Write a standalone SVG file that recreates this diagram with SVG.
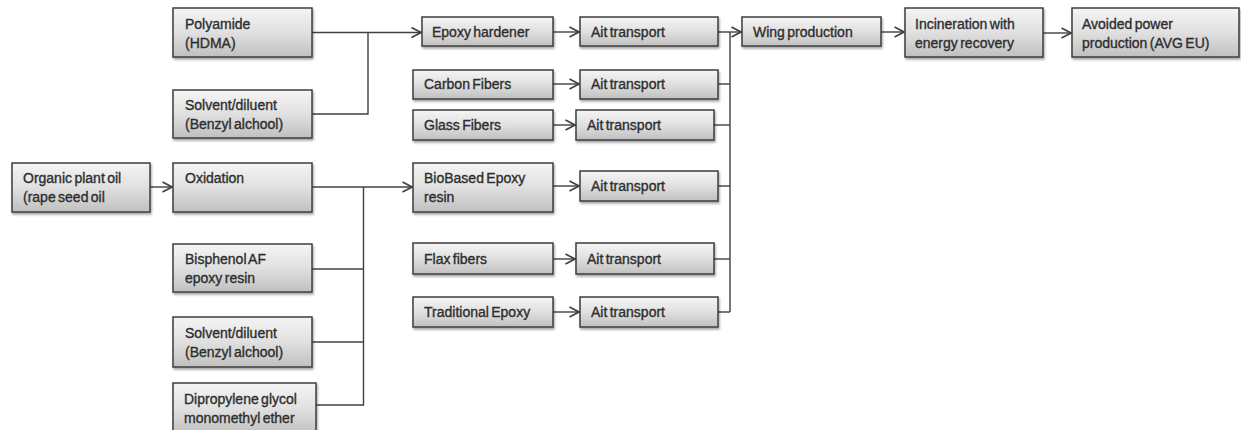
<svg xmlns="http://www.w3.org/2000/svg" width="1241" height="430" viewBox="0 0 1241 430">
  <style>
    .box { fill: url(#boxFill); stroke: #3d3d3d; stroke-width: 1.5; filter: url(#shadow); }
    .lbl { font-family: "Liberation Sans", Arial, sans-serif; font-size: 14px; fill: #2e2e2e; stroke: #2e2e2e; stroke-width: 0.35; word-spacing: -1.5px; }
    .wire { fill: none; stroke: #404040; stroke-width: 1.4; }
    .arrow { marker-end: url(#chevron); }
  </style>
  <defs>
    <linearGradient id="boxFill" x1="0" y1="0" x2="0" y2="1">
      <stop offset="0" stop-color="#f5f5f5"/>
      <stop offset="0.5" stop-color="#e0e0e0"/>
      <stop offset="1" stop-color="#c0c0c0"/>
    </linearGradient>
    <filter id="shadow" x="-10%" y="-20%" width="125%" height="160%">
      <feDropShadow dx="1" dy="2" stdDeviation="1.3" flood-color="#000" flood-opacity="0.35"/>
    </filter>
    <marker id="chevron" viewBox="0 0 11 12" refX="10.5" refY="6" markerWidth="11" markerHeight="12" markerUnits="userSpaceOnUse" orient="auto">
      <path d="M1,1 L10.5,6 L1,11" fill="none" stroke="#404040" stroke-width="1.6"/>
    </marker>
  </defs>

  <!-- connectors -->
  <g id="connectors">
    <!-- hardener inputs -->
    <path class="wire arrow" d="M312,32.5 H421"/>
    <path class="wire" d="M312,114 H368 V32.5"/>
    <!-- plant oil chain -->
    <path class="wire arrow" d="M150,187 H172"/>
    <path class="wire arrow" d="M312,187 H412"/>
    <path class="wire" d="M312,269 H363"/>
    <path class="wire" d="M312,342 H363"/>
    <path class="wire" d="M316,405 H363.5 V187"/>
    <!-- materials to transport -->
    <path class="wire arrow" d="M553,32 H579"/>
    <path class="wire arrow" d="M553,84 H579"/>
    <path class="wire arrow" d="M553,125 H575"/>
    <path class="wire arrow" d="M553,186 H579"/>
    <path class="wire arrow" d="M553,259 H575"/>
    <path class="wire arrow" d="M553,312 H579"/>
    <!-- transport collector to wing production -->
    <path class="wire arrow" d="M718,32 H741"/>
    <path class="wire" d="M718,84 H730"/>
    <path class="wire" d="M714,125 H730"/>
    <path class="wire" d="M718,186 H730"/>
    <path class="wire" d="M714,259 H730"/>
    <path class="wire" d="M718,312 H730"/>
    <path class="wire" d="M730,32 V312"/>
    <!-- end of life -->
    <path class="wire arrow" d="M881,32 H904"/>
    <path class="wire arrow" d="M1043,33 H1071"/>
  </g>

  <!-- input column -->
  <g id="polyamide">
    <rect class="box" x="173" y="8" width="139" height="49"/>
    <text class="lbl" x="185" y="29">Polyamide</text>
    <text class="lbl" x="185" y="48">(HDMA)</text>
  </g>
  <g id="solvent-hardener">
    <rect class="box" x="173" y="90" width="139" height="48"/>
    <text class="lbl" x="185" y="110">Solvent/diluent</text>
    <text class="lbl" x="185" y="129">(Benzyl alchool)</text>
  </g>
  <g id="plant-oil">
    <rect class="box" x="12" y="163" width="138" height="49"/>
    <text class="lbl" x="23" y="183">Organic plant oil</text>
    <text class="lbl" x="23" y="202">(rape seed oil</text>
  </g>
  <g id="oxidation">
    <rect class="box" x="173" y="163" width="139" height="49"/>
    <text class="lbl" x="185" y="183">Oxidation</text>
  </g>
  <g id="bisphenol">
    <rect class="box" x="173" y="244" width="139" height="48"/>
    <text class="lbl" x="185" y="264">Bisphenol AF</text>
    <text class="lbl" x="185" y="283">epoxy resin</text>
  </g>
  <g id="solvent-resin">
    <rect class="box" x="173" y="317" width="139" height="50"/>
    <text class="lbl" x="185" y="338">Solvent/diluent</text>
    <text class="lbl" x="185" y="357">(Benzyl alchool)</text>
  </g>
  <g id="dipropylene">
    <rect class="box" x="173" y="383" width="143" height="52"/>
    <text class="lbl" x="184" y="404">Dipropylene glycol</text>
    <text class="lbl" x="184" y="423">monomethyl ether</text>
  </g>

  <!-- materials column -->
  <g id="epoxy-hardener">
    <rect class="box" x="422" y="17" width="131" height="29"/>
    <text class="lbl" x="432" y="37">Epoxy hardener</text>
  </g>
  <g id="carbon-fibers">
    <rect class="box" x="413" y="70" width="140" height="29"/>
    <text class="lbl" x="424" y="89">Carbon Fibers</text>
  </g>
  <g id="glass-fibers">
    <rect class="box" x="413" y="110" width="140" height="30"/>
    <text class="lbl" x="424" y="130">Glass Fibers</text>
  </g>
  <g id="biobased-epoxy">
    <rect class="box" x="413" y="163" width="140" height="49"/>
    <text class="lbl" x="424" y="183">BioBased Epoxy</text>
    <text class="lbl" x="424" y="202">resin</text>
  </g>
  <g id="flax-fibers">
    <rect class="box" x="413" y="243" width="140" height="31"/>
    <text class="lbl" x="424" y="264">Flax fibers</text>
  </g>
  <g id="traditional-epoxy">
    <rect class="box" x="413" y="297" width="140" height="30"/>
    <text class="lbl" x="424" y="317">Traditional Epoxy</text>
  </g>

  <!-- transport column -->
  <g id="transport-1">
    <rect class="box" x="580" y="17" width="138" height="29"/>
    <text class="lbl" x="591" y="37">Ait transport</text>
  </g>
  <g id="transport-2">
    <rect class="box" x="580" y="70" width="138" height="29"/>
    <text class="lbl" x="591" y="89">Ait transport</text>
  </g>
  <g id="transport-3">
    <rect class="box" x="576" y="110" width="138" height="30"/>
    <text class="lbl" x="587" y="130">Ait transport</text>
  </g>
  <g id="transport-4">
    <rect class="box" x="580" y="171" width="138" height="30"/>
    <text class="lbl" x="591" y="191">Ait transport</text>
  </g>
  <g id="transport-5">
    <rect class="box" x="576" y="243" width="138" height="31"/>
    <text class="lbl" x="587" y="264">Ait transport</text>
  </g>
  <g id="transport-6">
    <rect class="box" x="580" y="297" width="138" height="30"/>
    <text class="lbl" x="591" y="317">Ait transport</text>
  </g>

  <!-- production and end of life -->
  <g id="wing-production">
    <rect class="box" x="742" y="17" width="139" height="29"/>
    <text class="lbl" x="753" y="37">Wing production</text>
  </g>
  <g id="incineration">
    <rect class="box" x="905" y="8" width="138" height="49"/>
    <text class="lbl" x="915" y="29">Incineration with</text>
    <text class="lbl" x="915" y="48">energy recovery</text>
  </g>
  <g id="avoided-power">
    <rect class="box" x="1072" y="8" width="167" height="49"/>
    <text class="lbl" x="1082" y="29">Avoided power</text>
    <text class="lbl" x="1082" y="48">production (AVG EU)</text>
  </g>
</svg>
